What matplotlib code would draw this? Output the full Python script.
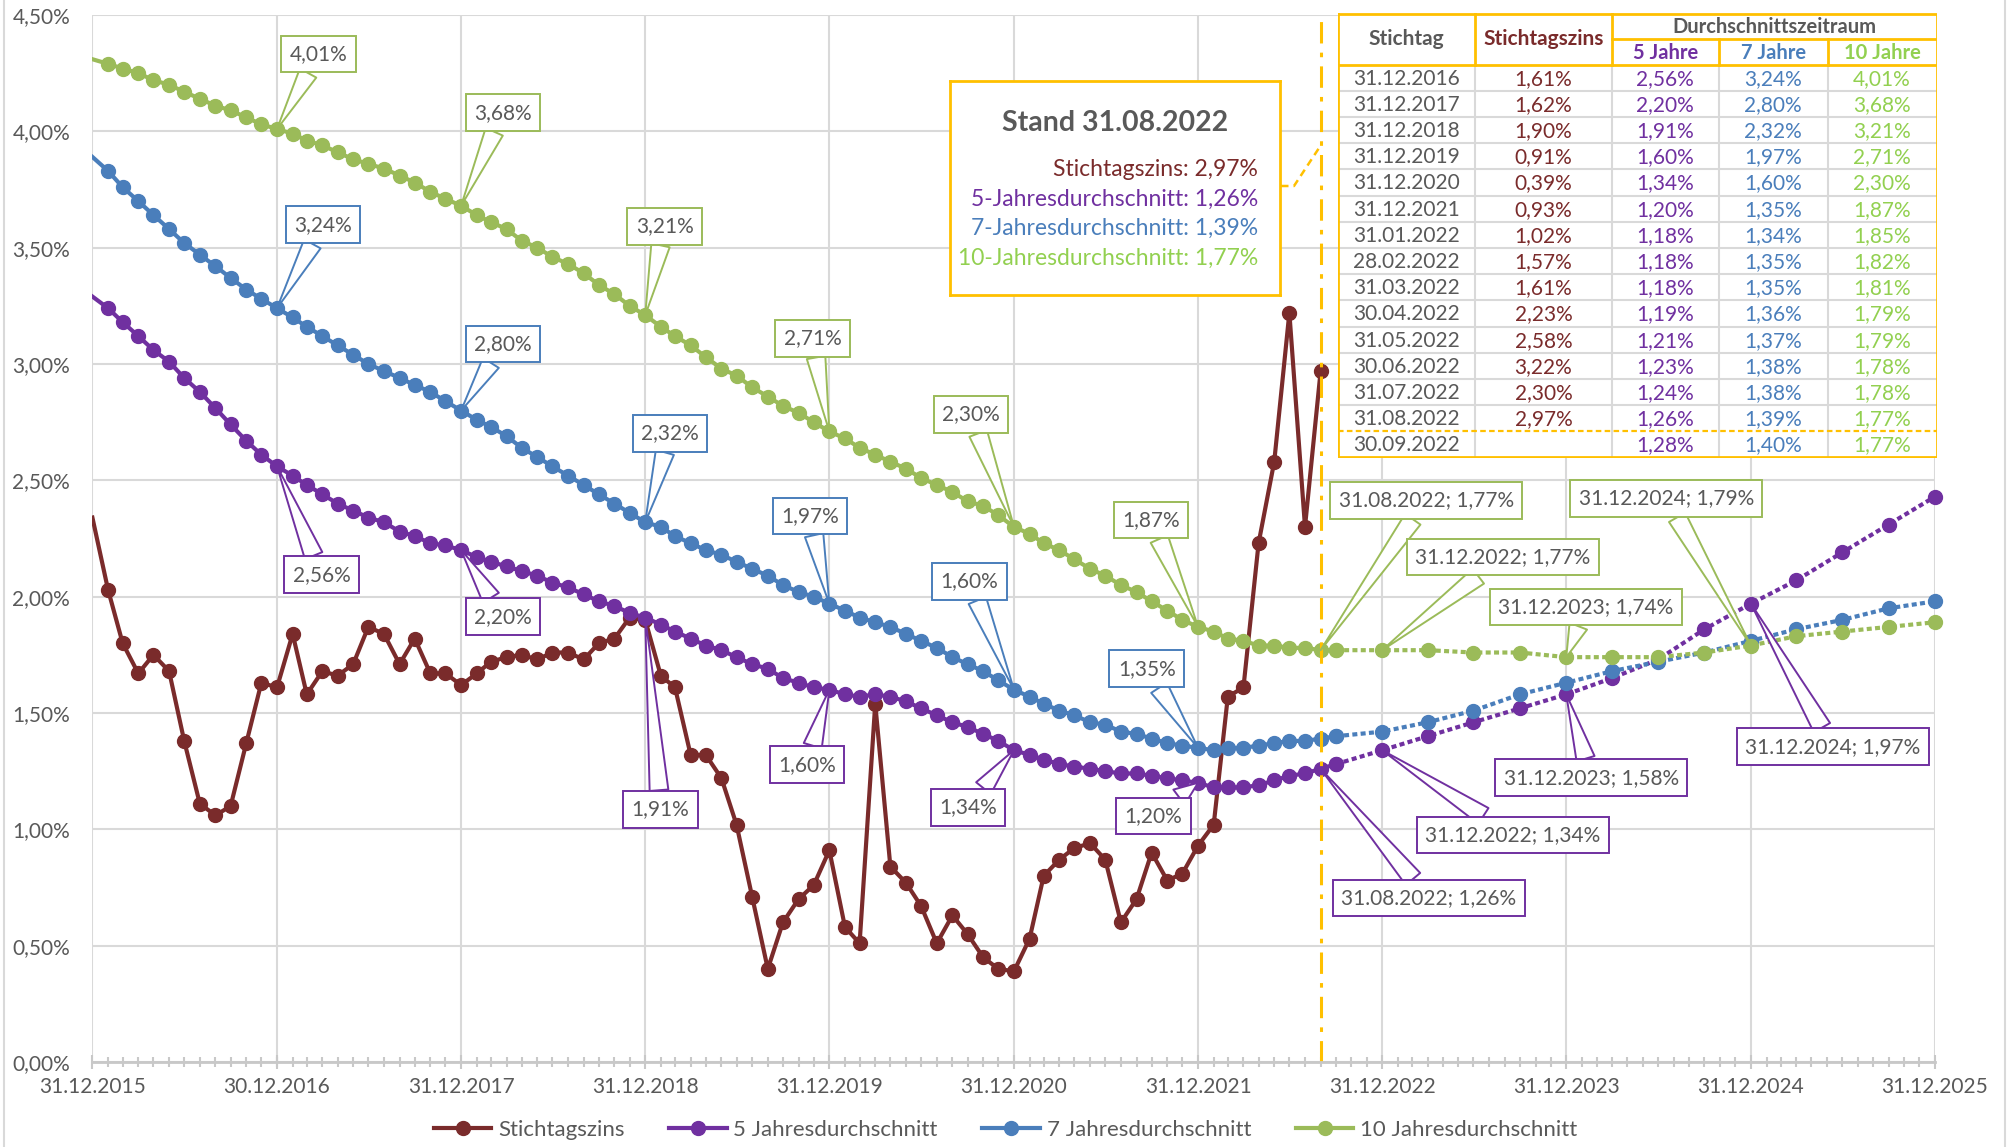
import pandas as pd
import matplotlib
matplotlib.use('Agg')
import matplotlib.pyplot as plt
from matplotlib.lines import Line2D
from matplotlib.ticker import FuncFormatter, MultipleLocator

plt.rcParams['font.family'] = ['Lato', 'DejaVu Sans']

BROWN = '#7A2B2B'
PURPLE = '#7030A0'
BLUE = '#4A7EBB'
GREEN = '#9BBB59'
GREEN_TXT = '#92D050'
ORANGE = '#FFC000'
GRID = '#D9D9D9'
TXT = '#595959'

W, H = 2011, 1147

# Monatsende 31.12.2015 .. 30.09.2022, danach Quartalsende bis 31.12.2025
hist_dates = pd.date_range('2015-12-31', '2022-09-30', freq=pd.offsets.MonthEnd())
proj_dates = pd.date_range('2022-09-30', '2025-12-31', freq=pd.offsets.QuarterEnd(startingMonth=12))
stich_dates = hist_dates[:-1]

stichtagszins = [2.34,
    2.03, 1.80, 1.67, 1.75, 1.68, 1.38, 1.11, 1.06, 1.10, 1.37, 1.63, 1.61,
    1.84, 1.58, 1.68, 1.66, 1.71, 1.87, 1.84, 1.71, 1.82, 1.67, 1.67, 1.62,
    1.67, 1.72, 1.74, 1.75, 1.73, 1.76, 1.76, 1.73, 1.80, 1.82, 1.91, 1.90,
    1.66, 1.61, 1.32, 1.32, 1.22, 1.02, 0.71, 0.40, 0.60, 0.70, 0.76, 0.91,
    0.58, 0.51, 1.54, 0.84, 0.77, 0.67, 0.51, 0.63, 0.55, 0.45, 0.40, 0.39,
    0.53, 0.80, 0.87, 0.92, 0.94, 0.87, 0.60, 0.70, 0.90, 0.78, 0.81, 0.93,
    1.02, 1.57, 1.61, 2.23, 2.58, 3.22, 2.30, 2.97]

avg5_hist = [3.29,
    3.24, 3.18, 3.12, 3.06, 3.01, 2.94, 2.88, 2.81, 2.74, 2.67, 2.61, 2.56,
    2.52, 2.48, 2.44, 2.40, 2.37, 2.34, 2.32, 2.28, 2.26, 2.23, 2.22, 2.20,
    2.17, 2.15, 2.13, 2.11, 2.09, 2.06, 2.04, 2.01, 1.98, 1.96, 1.93, 1.91,
    1.88, 1.85, 1.82, 1.79, 1.77, 1.74, 1.71, 1.69, 1.65, 1.63, 1.61, 1.60,
    1.58, 1.57, 1.58, 1.57, 1.55, 1.52, 1.49, 1.46, 1.44, 1.41, 1.38, 1.34,
    1.32, 1.30, 1.28, 1.27, 1.26, 1.25, 1.24, 1.24, 1.23, 1.22, 1.21, 1.20,
    1.18, 1.18, 1.18, 1.19, 1.21, 1.23, 1.24, 1.26, 1.28]
avg5_proj = [1.28, 1.34, 1.40, 1.46, 1.52, 1.58, 1.65, 1.73, 1.86, 1.97, 2.07, 2.19, 2.31, 2.43]

avg7_hist = [3.89,
    3.83, 3.76, 3.70, 3.64, 3.58, 3.52, 3.47, 3.42, 3.37, 3.32, 3.28, 3.24,
    3.20, 3.16, 3.12, 3.08, 3.04, 3.00, 2.97, 2.94, 2.91, 2.88, 2.84, 2.80,
    2.76, 2.73, 2.69, 2.64, 2.60, 2.56, 2.52, 2.48, 2.44, 2.40, 2.36, 2.32,
    2.30, 2.26, 2.23, 2.20, 2.18, 2.15, 2.12, 2.09, 2.05, 2.02, 2.00, 1.97,
    1.94, 1.91, 1.89, 1.87, 1.84, 1.81, 1.78, 1.74, 1.71, 1.68, 1.64, 1.60,
    1.57, 1.54, 1.51, 1.49, 1.46, 1.45, 1.42, 1.41, 1.39, 1.37, 1.36, 1.35,
    1.34, 1.35, 1.35, 1.36, 1.37, 1.38, 1.38, 1.39, 1.40]
avg7_proj = [1.40, 1.42, 1.46, 1.51, 1.58, 1.63, 1.68, 1.72, 1.76, 1.81, 1.86, 1.90, 1.95, 1.98]

avg10_hist = [4.31,
    4.29, 4.27, 4.25, 4.22, 4.20, 4.17, 4.14, 4.11, 4.09, 4.06, 4.03, 4.01,
    3.99, 3.96, 3.94, 3.91, 3.88, 3.86, 3.84, 3.81, 3.78, 3.74, 3.71, 3.68,
    3.64, 3.61, 3.58, 3.53, 3.50, 3.46, 3.43, 3.39, 3.34, 3.30, 3.25, 3.21,
    3.16, 3.12, 3.08, 3.03, 2.98, 2.95, 2.90, 2.86, 2.82, 2.79, 2.75, 2.71,
    2.68, 2.64, 2.61, 2.58, 2.55, 2.51, 2.48, 2.45, 2.41, 2.39, 2.35, 2.30,
    2.27, 2.23, 2.20, 2.16, 2.12, 2.09, 2.05, 2.02, 1.98, 1.94, 1.90, 1.87,
    1.85, 1.82, 1.81, 1.79, 1.79, 1.78, 1.78, 1.77, 1.77]
avg10_proj = [1.77, 1.77, 1.77, 1.76, 1.76, 1.74, 1.74, 1.74, 1.76, 1.79, 1.83, 1.85, 1.87, 1.89]

xtick_labels = ['31.12.2015', '30.12.2016', '31.12.2017', '31.12.2018', '31.12.2019', '31.12.2020',
                '31.12.2021', '31.12.2022', '31.12.2023', '31.12.2024', '31.12.2025']

legend_labels = ['Stichtagszins', '5 Jahresdurchschnitt', '7 Jahresdurchschnitt', '10 Jahresdurchschnitt']

# Tabelle
table_dates = ['31.12.2016', '31.12.2017', '31.12.2018', '31.12.2019', '31.12.2020', '31.12.2021',
               '31.01.2022', '28.02.2022', '31.03.2022', '30.04.2022', '31.05.2022', '30.06.2022',
               '31.07.2022', '31.08.2022', '30.09.2022']
table_stich = [1.61, 1.62, 1.90, 0.91, 0.39, 0.93, 1.02, 1.57, 1.61, 2.23, 2.58, 3.22, 2.30, 2.97, None]
table_5 = [2.56, 2.20, 1.91, 1.60, 1.34, 1.20, 1.18, 1.18, 1.18, 1.19, 1.21, 1.23, 1.24, 1.26, 1.28]
table_7 = [3.24, 2.80, 2.32, 1.97, 1.60, 1.35, 1.34, 1.35, 1.35, 1.36, 1.37, 1.38, 1.38, 1.39, 1.40]
table_10 = [4.01, 3.68, 3.21, 2.71, 2.30, 1.87, 1.85, 1.82, 1.81, 1.79, 1.79, 1.78, 1.78, 1.77, 1.77]

# Beschriftungen: Stichtag -> Versatz (pt)
hist_callout_dates = ['2016-12-31', '2017-12-31', '2018-12-31', '2019-12-31', '2020-12-31', '2021-12-31']
green_off = [(30, 54), (30, 67), (14, 64), (-12, 67), (-31, 81), (-34, 77)]
blue_off = [(33, 60), (30, 48), (18, 64), (-14, 63), (-32, 78), (-37, 57)]
purple_off = [(32, -78), (30, -48), (11, -138), (-16, -54), (-33, -41), (-32, -24)]
future_callout_dates = ['2022-08-31', '2022-12-31', '2023-12-31', '2024-12-31']
green_future_off = [(76, 108), (87, 67), (14, 36), (-61, 106)]
purple_future_off = [(78, -93), (94, -61), (18, -60), (59, -103)]


def pct(v):
    return f'{v:.2f}'.replace('.', ',') + '%'


def full_series(hist, proj):
    s = pd.Series(hist, index=hist_dates)
    return pd.concat([s, pd.Series(proj[1:], index=proj_dates[1:])])


s5 = full_series(avg5_hist, avg5_proj)
s7 = full_series(avg7_hist, avg7_proj)
s10 = full_series(avg10_hist, avg10_proj)

fig = plt.figure(figsize=(W / 100, H / 100), dpi=100)
ax = fig.add_axes([92.4 / W, 1 - 1062 / H, (1935 - 92.4) / W, (1062 - 15) / H])

ms = 10
lw = 3
dot = (0, (1.2, 0.8))
ax.plot(stich_dates, stichtagszins, color=BROWN, lw=lw, marker='o', ms=ms,
        markevery=slice(1, None), zorder=2.1)
for hist, proj, col, z in [(avg5_hist, avg5_proj, PURPLE, 2.2),
                           (avg7_hist, avg7_proj, BLUE, 2.3),
                           (avg10_hist, avg10_proj, GREEN, 2.4)]:
    ax.plot(hist_dates, hist, color=col, lw=lw, marker='o', ms=ms,
            markevery=slice(1, None), zorder=z)
    ax.plot(proj_dates, proj, color=col, lw=lw, ls=dot, marker='o', ms=ms,
            zorder=z, clip_on=False)

ax.axvline(pd.Timestamp('2022-08-31'), color=ORANGE, lw=2.2, ls=(0, (7, 3, 1.5, 3)), zorder=2.5)

ax.set_xlim(pd.Timestamp('2015-12-31'), pd.Timestamp('2025-12-31'))
ax.set_ylim(0, 4.5)
ax.yaxis.set_major_locator(MultipleLocator(0.5))
ax.yaxis.set_major_formatter(FuncFormatter(lambda v, p: pct(v)))
ax.set_xticks(pd.to_datetime(xtick_labels, format='%d.%m.%Y'))
ax.set_xticklabels(xtick_labels)
ax.set_xticks(pd.date_range('2015-12-31', '2025-12-31', freq=pd.offsets.MonthEnd()), minor=True)

ax.grid(True, which='major', color=GRID, lw=1.5)
ax.set_axisbelow(True)
for side in ['top', 'left', 'right']:
    ax.spines[side].set_visible(False)
ax.spines['bottom'].set_color('#C8C8C8')
ax.spines['bottom'].set_linewidth(2)
ax.tick_params(axis='x', which='major', direction='inout', length=10, width=1.5,
               color='#C8C8C8', labelsize=15, labelcolor=TXT, pad=6)
ax.tick_params(axis='x', which='minor', direction='inout', length=7, width=1.5, color='#C8C8C8')
ax.tick_params(axis='y', length=0, pad=16, labelsize=15, labelcolor=TXT)


def callout(date, value, text, off, col):
    ax.annotate(text, xy=(date, value), xytext=off, textcoords='offset points',
                ha='center', va='center', fontsize=15, color=TXT, zorder=6,
                bbox=dict(boxstyle='square,pad=0.4', fc='white', ec=col, lw=1.4),
                arrowprops=dict(arrowstyle='wedge,tail_width=0.9,shrink_factor=0.5',
                                fc='white', ec=col, lw=1.4, shrinkA=0, shrinkB=0))


for series, offs, col in [(s10, green_off, GREEN), (s7, blue_off, BLUE), (s5, purple_off, PURPLE)]:
    for d, off in zip(hist_callout_dates, offs):
        t = pd.Timestamp(d)
        callout(t, series[t], pct(series[t]), off, col)

for series, offs, col in [(s10, green_future_off, GREEN), (s5, purple_future_off, PURPLE)]:
    for d, off in zip(future_callout_dates, offs):
        t = pd.Timestamp(d)
        callout(t, series[t], t.strftime('%d.%m.%Y') + '; ' + pct(series[t]), off, col)

# Legende
handles = [Line2D([], [], color=c, lw=lw, marker='o', ms=ms) for c in [BROWN, PURPLE, BLUE, GREEN]]
fig.legend(handles, legend_labels, loc='center', bbox_to_anchor=(0.5, 17 / H), ncol=4,
           frameon=False, fontsize=16, handlelength=2.6, handletextpad=0.3,
           columnspacing=2.0, labelcolor=TXT)

# Rahmen des Diagrammbereichs
for xp in [4, 2005]:
    fig.add_artist(Line2D([xp / W, xp / W], [0, 1], color=GRID, lw=1.5, transform=fig.transFigure))

# Infobox "Stand"
stand = pd.Timestamp('2022-08-31')
bx = fig.add_axes([950 / W, 1 - 295 / H, 330 / W, 214 / H])
bx.set_xlim(0, 330)
bx.set_ylim(214, 0)
bx.set_xticks([])
bx.set_yticks([])
for sp in bx.spines.values():
    sp.set_color(ORANGE)
    sp.set_linewidth(2)
bx.text(165, 42, 'Stand ' + stand.strftime('%d.%m.%Y'), ha='center', va='center',
        fontsize=20.5, fontweight='bold', color=TXT)
box_lines = [('Stichtagszins: ', stichtagszins[-1], BROWN),
             ('5-Jahresdurchschnitt: ', s5[stand], PURPLE),
             ('7-Jahresdurchschnitt: ', s7[stand], BLUE),
             ('10-Jahresdurchschnitt: ', s10[stand], GREEN_TXT)]
for i, (lab, v, col) in enumerate(box_lines):
    bx.text(308, 89 + i * 29.3, lab + pct(v), ha='right', va='center', fontsize=16.5, color=col)
xs = [1281, 1294, 1321]
ys = [186, 186, 145]
fig.add_artist(Line2D([x / W for x in xs], [1 - y / H for y in ys], color=ORANGE, lw=1.8,
                      ls=(0, (3, 2)), transform=fig.transFigure))

# Tabelle
tw, th = 599, 444.5
tx = fig.add_axes([1337.6 / W, 1 - 457.5 / H, tw / W, th / H])
tx.set_xlim(0, tw)
tx.set_ylim(th, 0)
tx.set_xticks([])
tx.set_yticks([])
for sp in tx.spines.values():
    sp.set_visible(False)
cols = [0, 137.3, 274.5, 381, 490, tw]
h1, h2, rh = 26, 51.5, 26.2
nrows = len(table_dates)
for k in range(1, nrows - 1):
    tx.plot([0, tw], [h2 + k * rh] * 2, color=GRID, lw=1.5)
for c in cols[1:-1]:
    tx.plot([c, c], [h2, th], color=GRID, lw=1.5)
tx.plot([0, tw], [h2 + (nrows - 1) * rh] * 2, color=ORANGE, lw=1.6, ls=(0, (2.5, 1.5)))
ow = 2
tx.plot([0, tw, tw, 0, 0], [0.8, 0.8, th - 0.8, th - 0.8, 0.8], color=ORANGE, lw=ow)
tx.plot([0, tw], [h2, h2], color=ORANGE, lw=ow)
tx.plot([cols[2], tw], [h1, h1], color=ORANGE, lw=ow)
for c in cols[1:3]:
    tx.plot([c, c], [0, h2], color=ORANGE, lw=ow)
for c in cols[3:5]:
    tx.plot([c, c], [h1, h2], color=ORANGE, lw=ow)


def mid(i):
    return (cols[i] + cols[i + 1]) / 2


fs = 15
tx.text(mid(0), h2 / 2, 'Stichtag', ha='center', va='center', fontsize=fs, fontweight='bold', color=TXT)
tx.text(mid(1), h2 / 2, 'Stichtagszins', ha='center', va='center', fontsize=fs, fontweight='bold', color=BROWN)
tx.text((cols[2] + tw) / 2, h1 / 2 + 1, 'Durchschnittszeitraum', ha='center', va='center',
        fontsize=14.5, fontweight='bold', color=TXT)
for i, (lab, col) in enumerate([('5 Jahre', PURPLE), ('7 Jahre', BLUE), ('10 Jahre', GREEN_TXT)]):
    tx.text(mid(i + 2), (h1 + h2) / 2 + 1, lab, ha='center', va='center', fontsize=14.5,
            fontweight='bold', color=col)
for r in range(nrows):
    y = h2 + (r + 0.5) * rh + 1
    tx.text(mid(0), y, table_dates[r], ha='center', va='center', fontsize=fs, color=TXT)
    if table_stich[r] is not None:
        tx.text(mid(1), y, pct(table_stich[r]), ha='center', va='center', fontsize=fs, color=BROWN)
    tx.text(mid(2), y, pct(table_5[r]), ha='center', va='center', fontsize=fs, color=PURPLE)
    tx.text(mid(3), y, pct(table_7[r]), ha='center', va='center', fontsize=fs, color=BLUE)
    tx.text(mid(4), y, pct(table_10[r]), ha='center', va='center', fontsize=fs, color=GREEN_TXT)

fig.savefig('out.png', dpi=100, facecolor='white')
